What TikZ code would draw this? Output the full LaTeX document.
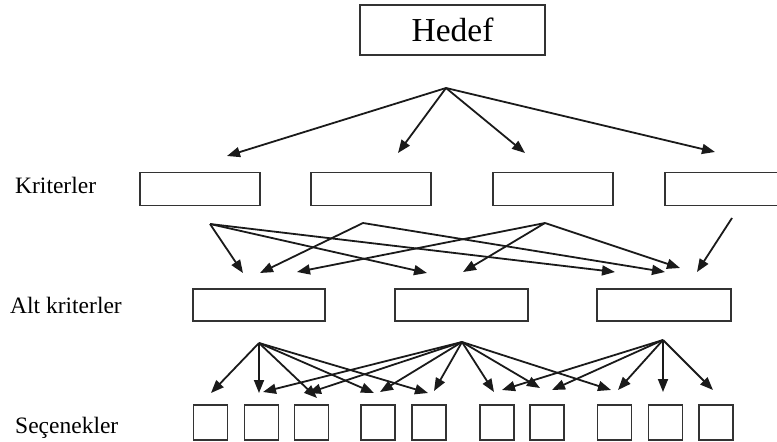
\documentclass[tikz,border=0pt]{standalone}
\usepackage{fontspec}
\setmainfont{Liberation Serif}
\usetikzlibrary{arrows.meta}
\definecolor{inkline}{HTML}{1A1A1A}
\definecolor{boxline}{HTML}{333333}
\begin{document}
\begin{tikzpicture}[x=1pt,y=-1pt,
  box/.style={draw=boxline, line width=1.4pt, inner sep=0pt, outer sep=0pt},
  link/.style={draw=inkline, line width=1.8pt, -{Triangle[length=13pt,width=10pt]}},
  lbl/.style={anchor=base west, inner sep=0pt, font=\fontsize{23.5}{26}\selectfont}]
\useasboundingbox (0,0) rectangle (777,442);

% goal
\node[box, minimum width=185pt, minimum height=50pt, font=\fontsize{33.5}{36}\selectfont] (hedef) at (452.5,30) {Hedef};

% level labels
\node[lbl] (lk) at (15,193) {Kriterler};
\node[lbl] (la) at (10,313) {Alt kriterler};
\node[lbl] (ls) at (15,433) {Seçenekler};

% criteria
\foreach \n/\x in {k1/200,k2/371,k3/553,k4/725}
  \node[box, minimum width=120pt, minimum height=33pt] (\n) at (\x,189) {};

% sub-criteria
\node[box, minimum width=132pt, minimum height=32pt] (a1) at (259,305) {};
\node[box, minimum width=133pt, minimum height=32pt] (a2) at (461.5,305) {};
\node[box, minimum width=134pt, minimum height=32pt] (a3) at (664,305) {};

% alternatives
\foreach \n/\x in {o1/210.5,o2/261.5,o3/311.5,o4/378,o5/429,o6/497,o7/547,o8/614.5,o9/665.5,o10/716}
  \node[box, minimum width=34pt, minimum height=35pt] (\n) at (\x,422.5) {};

% arrow end points
\coordinate (h0) at (446,88);
\coordinate (hk1) at (227,156);
\coordinate (hk2) at (398,153);
\coordinate (hk3) at (525,153);
\coordinate (hk4) at (715,152);

\coordinate (s1) at (210,224);
\coordinate (s2) at (363,223);
\coordinate (s3) at (545,223);
\coordinate (s4) at (732,218);

\coordinate (t11) at (243,273);
\coordinate (t12) at (427,273);
\coordinate (t13) at (615,272);
\coordinate (t21) at (260,273);
\coordinate (t23) at (665,272);
\coordinate (t31) at (297,272);
\coordinate (t32) at (463,272);
\coordinate (t33) at (680,268);
\coordinate (t43) at (697,272);

\coordinate (sa) at (259,343);
\coordinate (sb) at (462,342);
\coordinate (sc) at (663,340);

\coordinate (pa1) at (211,393);
\coordinate (pa2) at (259,393);
\coordinate (pa3) at (317,398);
\coordinate (pa4) at (374,393);
\coordinate (pa5) at (428,393);
\coordinate (pb2) at (263,392);
\coordinate (pb3) at (308,393);
\coordinate (pb4) at (380,392);
\coordinate (pb5) at (434,391);
\coordinate (pb6) at (494,392);
\coordinate (pb7) at (540,388);
\coordinate (pb8) at (611,390);
\coordinate (pc6) at (502,390);
\coordinate (pc7) at (552,390);
\coordinate (pc8) at (618,390);
\coordinate (pc9) at (663,392);
\coordinate (pc10) at (713,390);

% goal -> criteria
\foreach \t in {hk1,hk2,hk3,hk4} \draw[link] (h0) -- (\t);

% criteria -> sub-criteria
\foreach \t in {t11,t12,t13} \draw[link] (s1) -- (\t);
\foreach \t in {t21,t23} \draw[link] (s2) -- (\t);
\foreach \t in {t31,t32,t33} \draw[link] (s3) -- (\t);
\draw[link] (s4) -- (t43);

% sub-criteria -> alternatives
\foreach \t in {pa1,pa2,pa3,pa4,pa5} \draw[link] (sa) -- (\t);
\foreach \t in {pb2,pb3,pb4,pb5,pb6,pb7,pb8} \draw[link] (sb) -- (\t);
\foreach \t in {pc6,pc7,pc8,pc9,pc10} \draw[link] (sc) -- (\t);
\end{tikzpicture}
\end{document}
